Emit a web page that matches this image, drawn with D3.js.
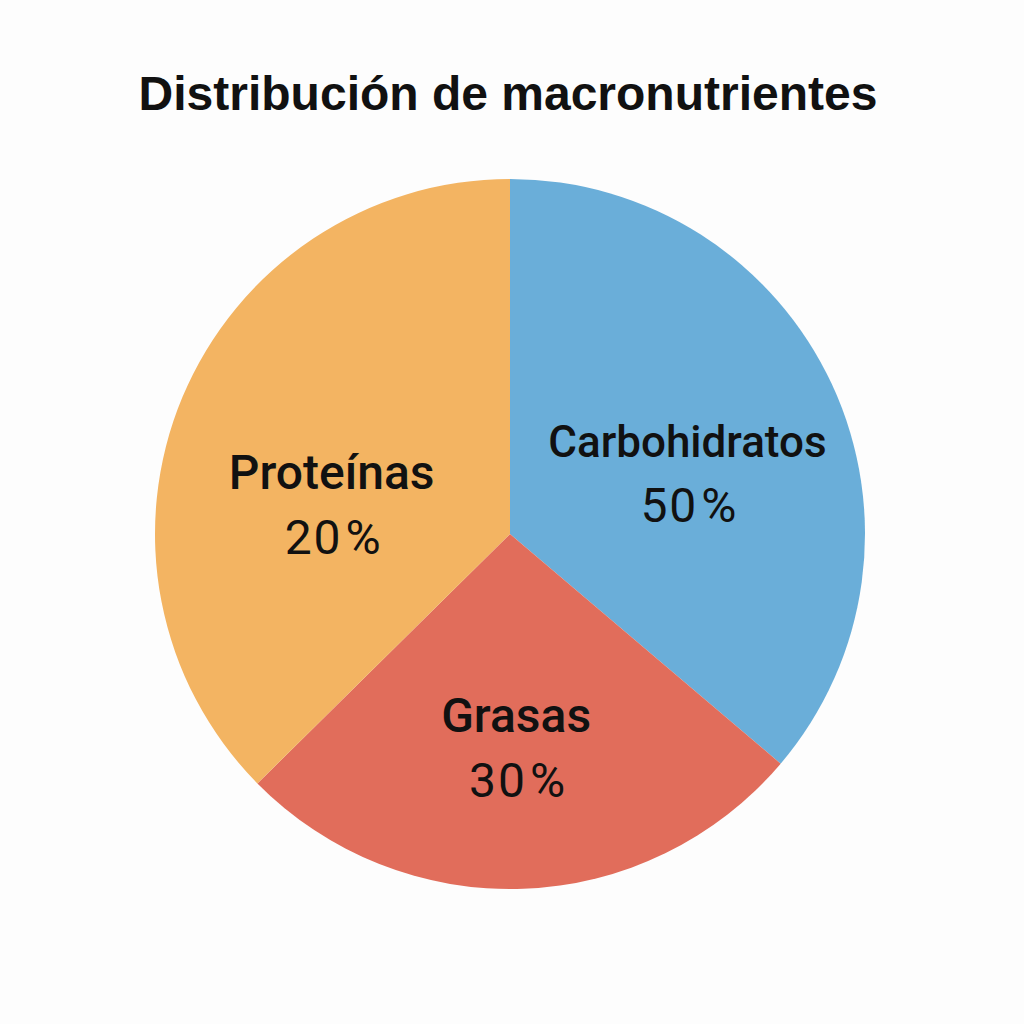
<!DOCTYPE html>
<html>
<head>
<meta charset="utf-8">
<script src="https://cdn.jsdelivr.net/npm/d3@7"></script>
<style>
  html, body { margin: 0; padding: 0; background: #fdfdfd; }
  svg { display: block; }
</style>
</head>
<body>
<svg width="1024" height="1024"></svg>
<script>
// chart data
var categories = ["Carbohidratos", "Grasas", "Proteínas"];
var percentLabels = ["50%", "30%", "20%"];
// slice shares as drawn in the picture
var sliceShares = [36.2, 26.4, 37.4];
var colors = ["#6aaed9", "#e16d5b", "#f3b462"];

var loadVis = function() {
    var svg = d3.select("svg"),
        width = +svg.attr("width");

    var cx = 510, cy = 534, radius = 355;

    svg.append("text")
        .attr("x", width / 2 - 4)
        .attr("y", 110)
        .attr("text-anchor", "middle")
        .attr("font-family", "Liberation Sans, Arial, sans-serif")
        .attr("font-weight", "bold")
        .attr("font-size", 48)
        .attr("fill", "#111")
        .text("Distribución de macronutrientes");

    var data = categories.map(function(c, i) {
        return { name: c, pct: percentLabels[i], share: sliceShares[i], color: colors[i] };
    });

    var pie = d3.pie()
        .sort(null)
        .value(function(d) { return d.share; });

    var arc = d3.arc().innerRadius(0).outerRadius(radius);
    var labelArc = d3.arc().innerRadius(190).outerRadius(190);

    // small label nudges and sizes
    var nudge = { "Carbohidratos": [5, 17], "Grasas": [-1, 22], "Proteínas": [-3, 42] };
    var nameSize = { "Carbohidratos": 44, "Grasas": 48, "Proteínas": 48 };

    var g = svg.append("g").attr("transform", "translate(" + cx + "," + cy + ")");

    g.selectAll("path")
        .data(pie(data))
        .enter().append("path")
            .attr("d", arc)
            .attr("fill", function(d) { return d.data.color; });

    var labels = g.selectAll("g.label")
        .data(pie(data))
        .enter().append("g")
            .attr("class", "label")
            .attr("transform", function(d) {
                var c = labelArc.centroid(d), n = nudge[d.data.name];
                return "translate(" + (c[0] + n[0]) + "," + (c[1] + n[1]) + ")";
            });

    labels.append("text")
        .attr("y", -14)
        .attr("text-anchor", "middle")
        .attr("font-family", "Roboto, sans-serif")
        .attr("font-weight", 500)
        .attr("font-size", function(d) { return nameSize[d.data.name]; })
        .attr("fill", "#111")
        .text(function(d) { return d.data.name; });

    var pct = labels.append("text")
        .attr("y", 51)
        .attr("x", 1)
        .attr("text-anchor", "middle")
        .attr("font-family", "Roboto, sans-serif")
        .attr("font-weight", 400)
        .attr("font-size", 48)
        .attr("fill", "#111");

    pct.append("tspan")
        .attr("letter-spacing", 2)
        .text(function(d) { return d.data.pct.replace("%", ""); });
    pct.append("tspan")
        .attr("dx", 3)
        .text("%");
};

document.addEventListener('DOMContentLoaded', loadVis, false);
</script>
</body>
</html>
